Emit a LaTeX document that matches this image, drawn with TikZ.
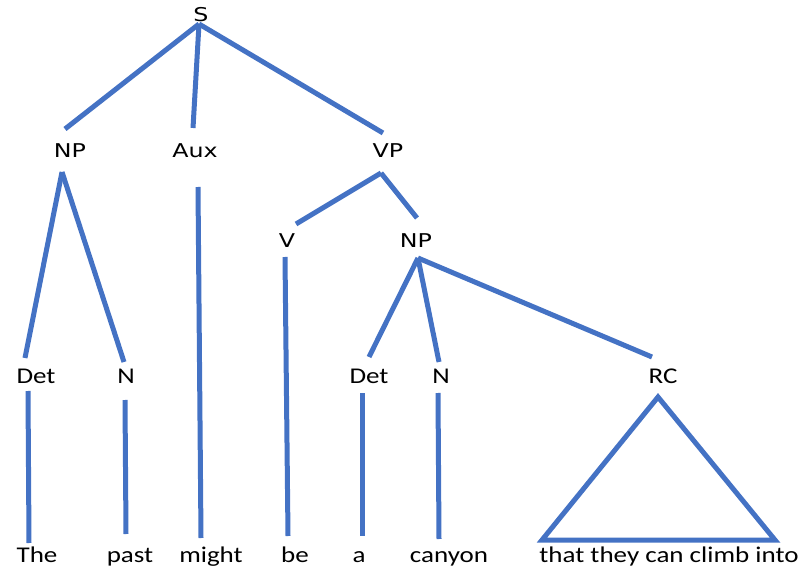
\documentclass[tikz,border=0pt]{standalone}
\usepackage{fontspec}
\setmainfont{Carlito}[FakeStretch=1.2]
\newfontfamily\phrasefont{DejaVu Sans}[FakeStretch=1.25]
\definecolor{branchblue}{HTML}{4472C4}

\begin{document}
\begin{tikzpicture}
[every node/.style={inner sep=0pt, anchor=base},
 phrase/.style={font=\phrasefont\fontsize{19pt}{19pt}\selectfont},
 word/.style={font=\fontsize{22.5pt}{22.5pt}\selectfont},
 branch/.style={line width=5pt, color=branchblue}]
\useasboundingbox (0pt, 0pt) rectangle (803pt, -569pt);
% labels
\node (S) [phrase] at (201pt, -22pt) {S};
\node (NP) [phrase] at (70pt, -158pt) {NP};
\node (Aux) [phrase] at (195pt, -158pt) {Aux};
\node (VP) [phrase] at (388pt, -158pt) {VP};
\node (V) [phrase] at (287pt, -248pt) {V};
\node (NP2) [phrase] at (416pt, -248pt) {NP};
\node (Det) [word] at (36pt, -383pt) {Det};
\node (N) [word] at (126pt, -383pt) {N};
\node (Det2) [word] at (369pt, -383pt) {Det};
\node (N2) [word] at (441pt, -383pt) {N};
\node (RC) [word] at (663pt, -383pt) {RC};
\node (The) [word] at (37pt, -562pt) {The};
\node (past) [word] at (130pt, -562pt) {past};
\node (might) [word] at (211pt, -562pt) {might};
\node (be) [word] at (295pt, -562pt) {be};
\node (a) [word] at (359pt, -562pt) {a};
\node (canyon) [word] at (449pt, -562pt) {canyon};
\node (that) [word] at (669pt, -562pt) {that they can climb into};
% ends of the branches
\coordinate (S-down) at (199pt, -24pt);
\coordinate (NP-up) at (65pt, -129pt);
\coordinate (Aux-up) at (193pt, -128pt);
\coordinate (VP-up) at (383pt, -133pt);
\coordinate (NP-down) at (62pt, -172pt);
\coordinate (Det-up) at (25pt, -358pt);
\coordinate (N-up) at (124pt, -362pt);
\coordinate (Aux-down) at (198pt, -187pt);
\coordinate (might-up) at (201pt, -538pt);
\coordinate (VP-down) at (381pt, -173pt);
\coordinate (V-up) at (296pt, -224pt);
\coordinate (NP2-up) at (417pt, -218pt);
\coordinate (V-down) at (285pt, -257pt);
\coordinate (be-up) at (288pt, -536pt);
\coordinate (Det-down) at (28pt, -391pt);
\coordinate (The-up) at (29pt, -543pt);
\coordinate (N-down) at (125pt, -400pt);
\coordinate (past-up) at (126pt, -534pt);
\coordinate (NP2-down) at (418pt, -258pt);
\coordinate (Det2-up) at (369pt, -357pt);
\coordinate (N2-up) at (439pt, -362pt);
\coordinate (RC-up) at (652pt, -357pt);
\coordinate (Det2-down) at (362pt, -393pt);
\coordinate (a-up) at (362pt, -536pt);
\coordinate (N2-down) at (438pt, -393pt);
\coordinate (canyon-up) at (439pt, -539pt);
\coordinate (RC-down) at (658pt, -397pt);
\coordinate (that-left) at (542pt, -540pt);
\coordinate (that-right) at (775pt, -540pt);
% branches
\draw [branch] (S-down) -- (NP-up);
\draw [branch] (S-down) -- (Aux-up);
\draw [branch] (S-down) -- (VP-up);
\draw [branch] (NP-down) -- (Det-up);
\draw [branch] (NP-down) -- (N-up);
\draw [branch] (Aux-down) -- (might-up);
\draw [branch] (VP-down) -- (V-up);
\draw [branch] (VP-down) -- (NP2-up);
\draw [branch] (V-down) -- (be-up);
\draw [branch] (Det-down) -- (The-up);
\draw [branch] (N-down) -- (past-up);
\draw [branch] (NP2-down) -- (Det2-up);
\draw [branch] (NP2-down) -- (N2-up);
\draw [branch] (NP2-down) -- (RC-up);
\draw [branch] (Det2-down) -- (a-up);
\draw [branch] (N2-down) -- (canyon-up);
\draw [branch] (RC-down) -- (that-left) -- (that-right) -- cycle;
\end{tikzpicture}
\end{document}
